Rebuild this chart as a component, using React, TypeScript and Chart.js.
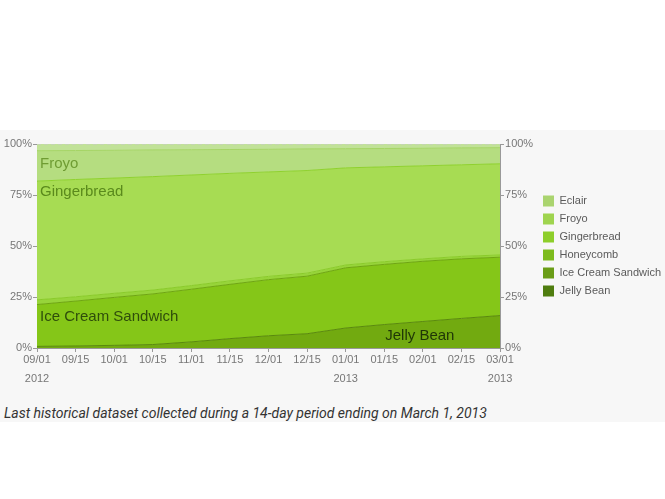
import React, { useEffect, useRef } from 'react';
import { Chart, registerables } from 'chart.js';

Chart.register(...registerables);

// ---- data ----
const dateLabels = ['09/01', '09/15', '10/01', '10/15', '11/01', '11/15', '12/01', '12/15', '01/01', '01/15', '02/01', '02/15', '03/01'];
const yearLabels = ['2012', '', '', '', '', '', '', '', '2013', '', '', '', '2013'];

const seriesNames = ['Jelly Bean', 'Ice Cream Sandwich', 'Honeycomb', 'Gingerbread', 'Froyo', 'Eclair'];

const jellyBean = [0.8, 1.0, 1.3, 1.7, 3.0, 4.6, 6.0, 7.0, 9.8, 11.5, 13.0, 14.5, 15.9];
const iceCreamSandwich = [20.5, 22.0, 23.5, 24.8, 25.8, 26.6, 27.5, 28.2, 29.5, 29.5, 29.5, 29.2, 28.6];
const honeycomb = [2.3, 2.1, 2.0, 1.9, 1.8, 1.7, 1.6, 1.5, 1.4, 1.3, 1.2, 1.2, 1.1];
const gingerbread = [58.2, 57.5, 56.5, 55.6, 54.2, 52.7, 51.2, 50.3, 47.6, 46.5, 45.6, 44.9, 44.7];
const froyo = [14.9, 14.2, 13.6, 13.1, 12.4, 11.7, 11.1, 10.6, 9.4, 9.0, 8.6, 8.3, 7.9];
const eclair = [3.3, 3.2, 3.1, 2.9, 2.8, 2.7, 2.6, 2.4, 2.3, 2.2, 2.1, 1.9, 1.8];

const yTickStep = 25;

// in-plot area labels
const areaLabelTexts = ['Froyo', 'Gingerbread', 'Ice Cream Sandwich', 'Jelly Bean'];
const areaLabelIndex = [0, 0, 0, 9];
const areaLabelValue = [90.5, 76.3, 15.4, 6.0];
const areaLabelColors = ['#6f9c33', '#5a8a1c', '#2f4d0b', '#1f3607'];

// ---- styles ----
const areaColors = ['#72aa10', '#85c618', '#97d43a', '#a7dc53', '#b5dd80', '#c1e298'];
const lineColors = ['#5a8a0c', '#6fa612', '#8acb2a', '#8fd12f', '#a6d566', '#c8c8c8'];
const legendColors = ['#4f7d0f', '#6a9d17', '#7dbb1d', '#8dce2a', '#9fd44f', '#aad46f'];
const FONT = 'Arial, "Liberation Sans", sans-serif';

const areaLabelPlugin = {
  id: 'areaLabels',
  afterDatasetsDraw(chart: any) {
    const { ctx } = chart;
    const xs = chart.scales.x;
    const ys = chart.scales.y;
    ctx.save();
    ctx.font = `15px ${FONT}`;
    ctx.textBaseline = 'middle';
    ctx.textAlign = 'left';
    areaLabelTexts.forEach((t, i) => {
      ctx.fillStyle = areaLabelColors[i];
      ctx.fillText(t, xs.getPixelForValue(areaLabelIndex[i]) + (i === 3 ? 1 : 3), ys.getPixelForValue(areaLabelValue[i]));
    });
    ctx.restore();
  },
};

export default function App() {
  const canvasRef = useRef<HTMLCanvasElement>(null);

  useEffect(() => {
    document.body.style.margin = '0';
    const seriesValues = [jellyBean, iceCreamSandwich, honeycomb, gingerbread, froyo, eclair];
    const chart = new Chart(canvasRef.current as HTMLCanvasElement, {
      type: 'line',
      data: {
        labels: dateLabels.map((d, i) => [d, yearLabels[i]]),
        datasets: seriesNames.map((name, i) => ({
          label: name,
          data: seriesValues[i],
          fill: i === 0 ? 'origin' : '-1',
          backgroundColor: areaColors[i],
          borderColor: lineColors[i],
          borderWidth: 1,
          borderDash: i === 5 ? [4, 3] : [],
          pointRadius: 0,
          pointHoverRadius: 0,
          tension: 0,
        })),
      },
      options: {
        animation: false,
        responsive: true,
        maintainAspectRatio: false,
        layout: { padding: { top: 14, left: 0, right: -6, bottom: 0 } },
        plugins: {
          tooltip: { enabled: false },
          legend: {
            position: 'right',
            align: 'center',
            fullSize: false,
            reverse: true,
            labels: {
              boxWidth: 11,
              boxHeight: 11,
              padding: 7,
              color: '#5a5a5a',
              font: { size: 11, family: FONT },
              generateLabels: (c: any) =>
                c.data.datasets.map((ds: any, i: number) => ({
                  text: ds.label,
                  fillStyle: legendColors[i],
                  strokeStyle: legendColors[i],
                  lineWidth: 0,
                  hidden: false,
                  datasetIndex: i,
                  fontColor: '#5a5a5a',
                })),
            },
          },
        },
        scales: {
          x: {
            type: 'category',
            offset: false,
            grid: { display: true, drawOnChartArea: false, tickLength: 4, tickColor: '#999' },
            border: { display: true, color: '#999' },
            ticks: {
              autoSkip: false,
              maxRotation: 0,
              minRotation: 0,
              padding: -2,
              color: '#777',
              font: { size: 11, family: FONT, lineHeight: '19px' },
            },
            afterFit: (s: any) => { s.height = 52; },
          },
          y: {
            stacked: true,
            position: 'left',
            min: 0,
            max: 100,
            grid: { display: true, drawOnChartArea: false, tickLength: 4, tickColor: '#999' },
            border: { display: true, color: '#999' },
            ticks: {
              stepSize: yTickStep,
              padding: 1,
              color: '#777',
              font: { size: 11, family: FONT },
              callback: (v: any) => `${v}%`,
            },
            afterFit: (s: any) => { s.width = 37; },
          },
          y2: {
            position: 'right',
            min: 0,
            max: 100,
            display: true,
            grid: { display: true, drawOnChartArea: false, tickLength: 4, tickColor: '#999' },
            border: { display: true, color: '#999' },
            ticks: {
              stepSize: yTickStep,
              padding: 1,
              color: '#777',
              font: { size: 11, family: FONT },
              callback: (v: any) => `${v}%`,
            },
            afterFit: (s: any) => { s.width = 36; },
          },
        },
      },
      plugins: [areaLabelPlugin],
    } as any);

    // let the legend take the width its labels need (layout otherwise caps it)
    const legend: any = (chart as any).legend;
    if (legend) {
      const origFit = legend.fit.bind(legend);
      legend.fit = () => {
        legend.maxWidth = 300;
        origFit();
      };
      chart.update();
    }
    return () => chart.destroy();
  }, []);

  return (
    <div style={{ width: 665, background: '#fff' }}>
      <div style={{ height: 130 }} />
      <div style={{ height: 292, background: '#f7f7f7', overflow: 'hidden' }}>
        <div style={{ position: 'relative', width: 665, height: 270 }}>
          <canvas ref={canvasRef} />
        </div>
        <div
          style={{
            height: 22,
            paddingTop: 2,
            lineHeight: '22px',
            paddingLeft: 4,
            fontFamily: 'Roboto, sans-serif',
            fontStyle: 'italic',
            fontSize: 14,
            color: '#333',
          }}
        >
          Last historical dataset collected during a 14-day period ending on March 1, 2013
        </div>
      </div>
    </div>
  );
}
